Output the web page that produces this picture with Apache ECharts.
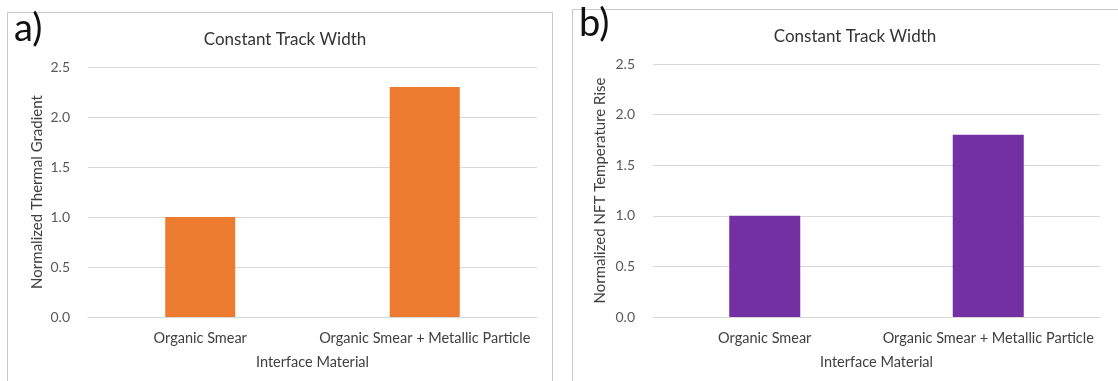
<!DOCTYPE html>
<html>
<head>
<meta charset="utf-8">
<script src="https://cdn.jsdelivr.net/npm/echarts@6/dist/echarts.min.js"></script>
<style>
html,body{margin:0;padding:0;background:#fff;}
#c{width:1118px;height:381px;}
</style>
</head>
<body>
<div id="c"></div>
<script>
// Data
const categories = ['Organic Smear', 'Organic Smear + Metallic Particle'];
const thermalGradient = [1.0, 2.3];
const nftTemperatureRise = [1.0, 1.8];
const yTicks = [0, 0.5, 1.0, 1.5, 2.0, 2.5];
const titleText = 'Constant Track Width';
const xName = 'Interface Material';
const yNameA = 'Normalized Thermal Gradient';
const yNameB = 'Normalized NFT Temperature Rise';

const FONT = 'Lato, "Open Sans", sans-serif';
const textGray = '#404040';
const gridGray = '#d9d9d9';

const chart = echarts.init(document.getElementById('c'), null, {renderer: 'canvas'});

function yAxis(idx, name, gap) {
  return {
    type: 'value', gridIndex: idx, min: yTicks[0], max: yTicks[yTicks.length - 1], interval: 0.5,
    name: name, nameLocation: 'middle', nameGap: gap, nameRotate: 90,
    nameTextStyle: {fontFamily: FONT, fontSize: 15, color: textGray},
    axisLine: {show: false}, axisTick: {show: false},
    axisLabel: {fontFamily: FONT, fontSize: 14, color: '#595959', margin: 18,
      formatter: v => v.toFixed(1)},
    splitLine: {lineStyle: {color: gridGray, width: 1}}
  };
}
function xAxis(idx) {
  return {
    type: 'category', gridIndex: idx, data: categories,
    name: xName, nameLocation: 'middle', nameGap: 38,
    nameTextStyle: {fontFamily: FONT, fontSize: 14.5, color: textGray},
    axisLine: {lineStyle: {color: gridGray}}, axisTick: {show: false},
    axisLabel: {fontFamily: FONT, fontSize: 14.5, color: textGray, margin: 14, interval: 0}
  };
}

chart.setOption({
  backgroundColor: '#ffffff',
  animation: false,
  title: [
    {text: titleText, left: 280, top: 26, textAlign: 'center',
     textStyle: {fontFamily: FONT, fontSize: 17, fontWeight: 'normal', color: '#333'}},
    {text: titleText, left: 850, top: 23, textAlign: 'center',
     textStyle: {fontFamily: FONT, fontSize: 17, fontWeight: 'normal', color: '#333'}}
  ],
  grid: [
    {left: 88, top: 67, width: 449, height: 250},
    {left: 653, top: 64, width: 447, height: 253}
  ],
  xAxis: [xAxis(0), xAxis(1)],
  yAxis: [yAxis(0, yNameA, 43), yAxis(1, yNameB, 45)],
  series: [
    {type: 'bar', xAxisIndex: 0, yAxisIndex: 0, data: thermalGradient, barWidth: 70,
     itemStyle: {color: '#ed7b2f'}},
    {type: 'bar', xAxisIndex: 1, yAxisIndex: 1, data: nftTemperatureRise, barWidth: 71,
     itemStyle: {color: '#7230a2'}}
  ],
  graphic: [
    {type: 'rect', shape: {x: 7.5, y: 12.5, width: 545, height: 380}, silent: true,
     style: {fill: 'none', stroke: '#c8c8c8', lineWidth: 1}},
    {type: 'rect', shape: {x: 572.5, y: 9.5, width: 560, height: 380}, silent: true,
     style: {fill: 'none', stroke: '#c8c8c8', lineWidth: 1}},
    {type: 'text', left: 14, top: 10, silent: true,
     style: {text: 'a)', font: '38px ' + FONT, fill: '#111'}},
    {type: 'text', left: 579, top: 5, silent: true,
     style: {text: 'b)', font: '38px ' + FONT, fill: '#111'}}
  ]
});
</script>
</body>
</html>
